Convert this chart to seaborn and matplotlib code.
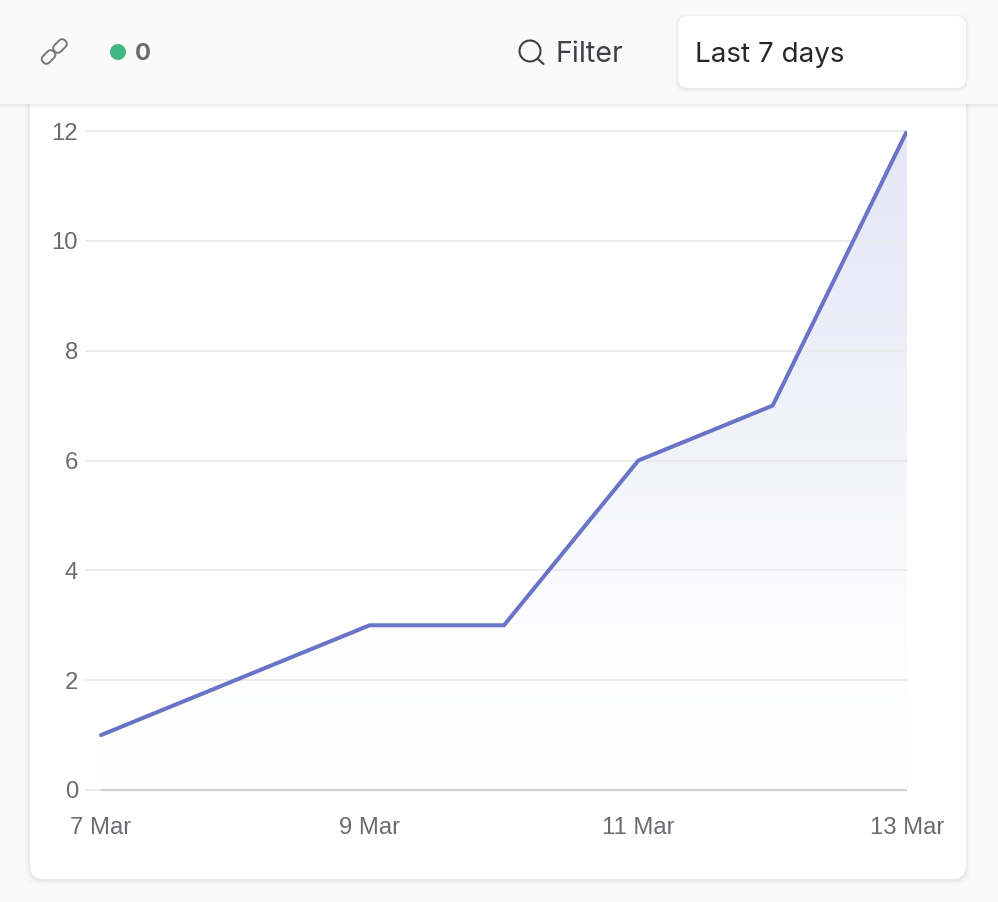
import numpy as np
import matplotlib
matplotlib.use("Agg")
import matplotlib.pyplot as plt
from matplotlib.colors import LinearSegmentedColormap
from matplotlib.patches import Circle, FancyBboxPatch, Polygon, Rectangle
from matplotlib.transforms import Affine2D
import pandas as pd
import seaborn as sns

dates = ["7 Mar", "8 Mar", "9 Mar", "10 Mar", "11 Mar", "12 Mar", "13 Mar"]
counts = [1, 2, 3, 3, 6, 7, 12]
x_tick_labels = ["7 Mar", "9 Mar", "11 Mar", "13 Mar"]
y_ticks = [0, 2, 4, 6, 8, 10, 12]
status_count = "0"
filter_label = "Filter"
range_label = "Last 7 days"

W, H = 998, 902
LINE = "#6a74c6"
GREY = "#6b6b70"

sns.set_theme(style="white")
plt.rcParams["font.family"] = ["Liberation Sans", "DejaVu Sans"]

fig = plt.figure(figsize=(W / 100, H / 100), dpi=100, facecolor="#fafafa")


def px_axes(zorder):
    # overlay in pixel coordinates, y pointing down
    a = fig.add_axes([0, 0, 1, 1], zorder=zorder)
    a.set_xlim(0, W)
    a.set_ylim(H, 0)
    a.axis("off")
    return a


def rounded(a, x0, y0, x1, y1, r, **kw):
    a.add_patch(FancyBboxPatch((x0 + r, y0 + r), x1 - x0 - 2 * r, y1 - y0 - 2 * r,
                               boxstyle=f"round,pad={r},rounding_size={r}", **kw))


# card behind the chart, with a soft shadow
back = px_axes(0)
for grow, alpha in [(5, 0.012), (3, 0.02), (1.5, 0.035)]:
    rounded(back, 30 - grow, 90, 966 + grow, 880 + grow, 14, fc="black", ec="none", alpha=alpha)
rounded(back, 30, 90, 966, 879, 14, fc="white", ec="none")

# chart: left edge of the axes is where the gridlines start, 16 px before 7 Mar
ax = fig.add_axes([85 / W, 1 - 790 / H, (907 - 85) / W, (790 - 131) / H], zorder=1)
ax.patch.set_alpha(0)
df = pd.DataFrame({"date": dates, "count": counts})
sns.lineplot(data=df, x="date", y="count", color=LINE, linewidth=2.9, ax=ax, zorder=4)
ax.lines[0].set_solid_joinstyle("miter")

# area under the line, fading out towards the bottom
fade = LinearSegmentedColormap.from_list("fade", ["#ffffff", "#e4e6f5"])
grad = ax.imshow(np.array([[0.0], [0.05], [0.18], [0.45], [0.66], [0.84], [1.0]]), cmap=fade,
                 aspect="auto", extent=(0, 6, -1, 13), origin="lower", interpolation="bilinear",
                 zorder=1, vmin=0, vmax=1)
clip = Polygon(list(zip(range(len(counts)), counts)) + [(6, 0), (0, 0)], closed=True,
               transform=ax.transData, fc="none", ec="none")
ax.add_patch(clip)
grad.set_clip_path(clip)

ax.set_yticks(y_ticks)
ax.set_xticks([0, 2, 4, 6], x_tick_labels)
ax.set_xlabel("")
ax.set_ylabel("")
ax.grid(axis="y", color="#ebebee", linewidth=1.4)
ax.set_axisbelow(False)
for gl in ax.get_ygridlines():
    gl.set_zorder(2)
    gl.set_clip_on(False)
    gl.set_solid_capstyle("butt")
ax.tick_params(axis="y", length=0, pad=5, labelsize=17.2, labelcolor=GREY)
ax.tick_params(axis="x", length=0, pad=19.6, labelsize=17.2, labelcolor=GREY)
for side in ["top", "right", "left", "bottom"]:
    ax.spines[side].set_visible(False)
# darker baseline from the first date to the last
ax.plot([0, 6], [0, 0], color="#d2d2d5", linewidth=1.6, clip_on=False, zorder=3, solid_capstyle="butt")
ax.set_xlim(-16 / (806 / 6), 6)
ax.set_ylim(0, 12)

# header bar
top = px_axes(2)
for grow, alpha in [(6, 0.012), (4, 0.018), (2, 0.03)]:
    top.add_patch(Rectangle((0, 0), W, 104 + grow, fc="black", ec="none", alpha=alpha))
top.add_patch(Rectangle((0, 0), W, 104, fc="#fafafa", ec="none"))

# link icon, two small rounded links at 45 degrees
for cx, cy in [(48.5, 57), (60, 46)]:
    rot = Affine2D().rotate_deg_around(cx, cy, -45) + top.transData
    link = FancyBboxPatch((cx - 5, cy - 2), 10, 4, boxstyle="round,pad=2.5,rounding_size=4.5",
                          fc="none", ec="#77777c", lw=1.4, transform=rot)
    top.add_patch(link)

top.add_patch(Circle((118, 52), 8, fc="#3fb981", ec="none"))
top.text(135, 54, status_count, fontsize=17, fontweight="bold", color=GREY, va="center", ha="left",
         family=["Inter", "DejaVu Sans"])

# magnifier
top.add_patch(Circle((530, 51), 10.5, fc="none", ec="#3f3f46", lw=1.5))
top.plot([538, 543.5], [59, 64], color="#3f3f46", lw=1.5, solid_capstyle="round")
top.text(556, 54.5, filter_label, fontsize=20.6, color="#3f3f46", va="center", ha="left",
         family=["Inter", "DejaVu Sans"])

# range dropdown
for grow, alpha in [(3, 0.012), (2, 0.02), (1, 0.03)]:
    rounded(top, 678 - grow, 16 - grow + 1, 966 + grow, 88 + grow + 1, 10, fc="black", ec="none", alpha=alpha)
rounded(top, 678, 16, 966, 88, 10, fc="white", ec="none")
top.text(695, 55, range_label, fontsize=20, color="#27272a", va="center", ha="left",
         family=["Inter", "DejaVu Sans"])

fig.savefig("out.png", dpi=100, facecolor=fig.get_facecolor())
